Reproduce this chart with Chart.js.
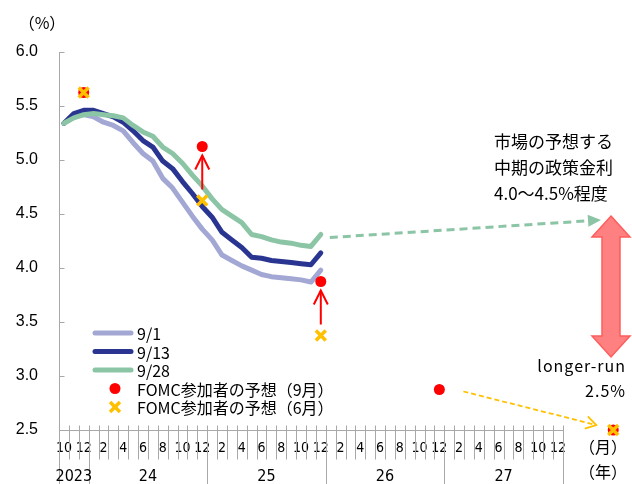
<!DOCTYPE html>
<html>
<head>
<meta charset="utf-8">
<script src="https://cdn.jsdelivr.net/npm/chart.js@4/dist/chart.umd.min.js"></script>
<style>
  html, body { margin: 0; padding: 0; background: #fff; }
  #wrap { width: 632px; height: 484px; position: relative; }
</style>
</head>
<body>
<div id="wrap"><canvas id="chart" width="632" height="484"></canvas></div>
<script>
// ---- Data -------------------------------------------------------------
// Month axis: October 2023 through December 2027 (one entry per month)
const MONTHS = [10, 11, 12,
  1, 2, 3, 4, 5, 6, 7, 8, 9, 10, 11, 12,
  1, 2, 3, 4, 5, 6, 7, 8, 9, 10, 11, 12,
  1, 2, 3, 4, 5, 6, 7, 8, 9, 10, 11, 12,
  1, 2, 3, 4, 5, 6, 7, 8, 9, 10, 11, 12];
const YEAR_LABELS = ['2023', '24', '25', '26', '27'];
const FIRST_YEAR = 2023;
const FIRST_MONTH = 10;

// Fed funds futures implied path, Oct 2023 – Dec 2025 (%)
const futures_0901 = [5.34, 5.40, 5.42, 5.40, 5.35, 5.32, 5.27, 5.16, 5.06, 4.99,
  4.83, 4.74, 4.61, 4.48, 4.36, 4.26, 4.12, 4.07, 4.02, 3.98,
  3.94, 3.92, 3.91, 3.90, 3.89, 3.87, 3.98];
const futures_0913 = [5.34, 5.43, 5.46, 5.46, 5.43, 5.40, 5.35, 5.27, 5.18, 5.12,
  4.99, 4.92, 4.80, 4.69, 4.57, 4.47, 4.33, 4.26, 4.19, 4.10,
  4.09, 4.07, 4.06, 4.05, 4.04, 4.03, 4.14];
const futures_0928 = [5.34, 5.39, 5.42, 5.43, 5.42, 5.41, 5.39, 5.32, 5.26, 5.22,
  5.12, 5.06, 4.97, 4.86, 4.76, 4.64, 4.54, 4.48, 4.42, 4.31,
  4.29, 4.26, 4.24, 4.23, 4.21, 4.20, 4.31];

// FOMC participants' median projections (year-end) and longer run
const DOT_PERIODS = ['2023-12', '2024-12', '2025-12', '2026-12', 'longer-run'];
const fomcSep = [5.625, 5.125, 3.875, 2.875, 2.5];
const fomcJun = [5.625, 4.625, 3.375, null, 2.5];

// ---- Layout / style ----------------------------------------------------
const COLORS = {
  lav: '#a3a7d4', navy: '#2a3591', green: '#8bc5a5',
  red: '#ff0000', gold: '#ffc000', axis: '#a8a8a8',
  band: '#ff8080', bandEdge: '#ff5c5c', text: '#000000'
};
const JP = '"Noto Sans CJK JP", "Noto Sans", sans-serif';
const NARROW = '"Liberation Sans Narrow", "DejaVu Sans Condensed", "Liberation Sans", sans-serif';
const LONGER_RUN_POS = 55.6;   // horizontal slot for the longer-run marker
const X_MAX = 57.5;

function periodPos(p) {
  if (p === 'longer-run') return LONGER_RUN_POS;
  const [yy, mm] = p.split('-').map(Number);
  return (yy - FIRST_YEAR) * 12 + (mm - FIRST_MONTH);
}
const asXY = arr => arr.map((v, i) => ({ x: i, y: v }));
const dots = vals => DOT_PERIODS.map((p, i) => ({ x: periodPos(p), y: vals[i] })).filter(d => d.y !== null);

function lineSet(label, values, color, order) {
  return {
    label, data: asXY(values), borderColor: color, backgroundColor: color,
    borderWidth: 5, pointRadius: 0, tension: 0,
    borderCapStyle: 'round', borderJoinStyle: 'round', order
  };
}

// ---- Drawing helpers ---------------------------------------------------
function seg(ctx, x1, y1, x2, y2) {
  ctx.beginPath(); ctx.moveTo(x1, y1); ctx.lineTo(x2, y2); ctx.stroke();
}
function cross(ctx, x, y, r, w, color) {
  const d = r * Math.SQRT1_2;
  ctx.save(); ctx.strokeStyle = color; ctx.lineWidth = w; ctx.lineCap = 'butt';
  seg(ctx, x - d, y - d, x + d, y + d);
  seg(ctx, x - d, y + d, x + d, y - d);
  ctx.restore();
}
function disc(ctx, x, y, r, color) {
  ctx.save(); ctx.fillStyle = color;
  ctx.beginPath(); ctx.arc(x, y, r, 0, Math.PI * 2); ctx.fill();
  ctx.restore();
}

// Axis frame: inward ticks, month separators, year separators and year labels
const axisFrame = {
  id: 'axisFrame',
  beforeDatasetsDraw(chart) {
    const { ctx, chartArea: a, scales: { x, y } } = chart;
    const H = chart.height;
    const L = Math.round(a.left) + 0.5;
    const B = Math.round(a.bottom) + 0.5;
    ctx.save();
    ctx.strokeStyle = COLORS.axis;
    ctx.lineWidth = 1;
    // vertical axis, running down through the label rows
    seg(ctx, L, a.top, L, H);
    for (let v = 2.5; v <= 6.0001; v += 0.5) {
      const py = Math.round(y.getPixelForValue(v)) + 0.5;
      seg(ctx, L, py, L + 5, py);
    }
    // horizontal axis up to the end of Dec 2027
    const xEnd = Math.round(x.getPixelForValue(MONTHS.length - 0.5)) + 0.5;
    seg(ctx, L, B, xEnd, B);
    for (let k = 1; k <= MONTHS.length; k++) {
      const bx = Math.round(x.getPixelForValue(k - 0.5)) + 0.5;
      const yearEdge = k === MONTHS.length || MONTHS[k] === 1;
      seg(ctx, bx, B - 5, bx, yearEdge ? H : B + 29);
    }
    // year labels centred in their spans
    ctx.fillStyle = COLORS.text;
    ctx.font = '16px ' + NARROW;
    ctx.textAlign = 'center';
    ctx.textBaseline = 'middle';
    let start = 0, yi = 0;
    for (let k = 1; k <= MONTHS.length; k++) {
      if (k === MONTHS.length || MONTHS[k] === 1) {
        const cx = (x.getPixelForValue(start - 0.5) + x.getPixelForValue(k - 0.5)) / 2;
        ctx.fillText(YEAR_LABELS[yi++], cx, 477);
        start = k;
      }
    }
    // unit captions
    ctx.font = '16px ' + JP;
    ctx.fillText('（%）', 42, 23);
    ctx.fillText('（月）', 603, 447);
    ctx.fillText('（年）', 603, 472);
    ctx.restore();
  }
};

// Callouts, arrows and the legend
const callouts = {
  id: 'callouts',
  afterDatasetsDraw(chart) {
    const { ctx, scales: { x, y } } = chart;
    ctx.save();

    // red arrows: June projection -> September projection
    ctx.strokeStyle = COLORS.red;
    ctx.lineWidth = 2;
    DOT_PERIODS.forEach((p, i) => {
      if (fomcJun[i] === null || fomcJun[i] === fomcSep[i]) return;
      const px = x.getPixelForValue(periodPos(p));
      const y0 = y.getPixelForValue(fomcJun[i]) - 11;
      const y1 = y.getPixelForValue(fomcSep[i]) + 9;
      seg(ctx, px, y0, px, y1);
      ctx.beginPath();
      ctx.moveTo(px - 7, y1 + 14); ctx.lineTo(px, y1); ctx.lineTo(px + 7, y1 + 14);
      ctx.stroke();
    });

    // double-headed band arrow on the right
    const cx = 611, top = 216, bot = 357, head = 21, hw = 19, sw = 9;
    ctx.beginPath();
    ctx.moveTo(cx, top);
    ctx.lineTo(cx + hw, top + head);
    ctx.lineTo(cx + sw, top + head);
    ctx.lineTo(cx + sw, bot - head);
    ctx.lineTo(cx + hw, bot - head);
    ctx.lineTo(cx, bot);
    ctx.lineTo(cx - hw, bot - head);
    ctx.lineTo(cx - sw, bot - head);
    ctx.lineTo(cx - sw, top + head);
    ctx.lineTo(cx - hw, top + head);
    ctx.closePath();
    ctx.fillStyle = COLORS.band;
    ctx.fill();
    ctx.strokeStyle = COLORS.bandEdge;
    ctx.lineWidth = 1.5;
    ctx.lineJoin = 'miter';
    ctx.stroke();

    // green dashed arrow from the end of the 9/28 path to the band
    const gLast = futures_0928.length - 1;
    const gx0 = x.getPixelForValue(gLast) + 9, gy0 = y.getPixelForValue(futures_0928[gLast]) + 3;
    const gx1 = cx - 10, gy1 = top + 4;
    const ang = Math.atan2(gy1 - gy0, gx1 - gx0);
    const hl = 13, hwid = 6;
    const bx = gx1 - hl * Math.cos(ang), by = gy1 - hl * Math.sin(ang);
    ctx.strokeStyle = COLORS.green;
    ctx.lineWidth = 3;
    ctx.setLineDash([8, 5]);
    seg(ctx, gx0, gy0, bx, by);
    ctx.setLineDash([]);
    ctx.fillStyle = COLORS.green;
    ctx.beginPath();
    ctx.moveTo(gx1, gy1);
    ctx.lineTo(bx + hwid * Math.sin(ang), by - hwid * Math.cos(ang));
    ctx.lineTo(bx - hwid * Math.sin(ang), by + hwid * Math.cos(ang));
    ctx.closePath();
    ctx.fill();

    // yellow dashed arrow from the 2026 projection to the longer-run marker
    const k26 = DOT_PERIODS.indexOf('2026-12');
    const kLR = DOT_PERIODS.indexOf('longer-run');
    const yx0 = x.getPixelForValue(periodPos('2026-12')) + 24, yy0 = y.getPixelForValue(fomcSep[k26]) + 2;
    const yx1 = x.getPixelForValue(LONGER_RUN_POS) - 17, yy1 = y.getPixelForValue(fomcSep[kLR]) - 5;
    const a2 = Math.atan2(yy1 - yy0, yx1 - yx0);
    ctx.strokeStyle = COLORS.gold;
    ctx.lineWidth = 1.8;
    ctx.setLineDash([5, 3]);
    seg(ctx, yx0, yy0, yx1, yy1);
    ctx.setLineDash([]);
    ctx.beginPath();
    const wl = 12, wa = 0.55;
    ctx.moveTo(yx1 - wl * Math.cos(a2 - wa), yy1 - wl * Math.sin(a2 - wa));
    ctx.lineTo(yx1, yy1);
    ctx.lineTo(yx1 - wl * Math.cos(a2 + wa), yy1 - wl * Math.sin(a2 + wa));
    ctx.stroke();

    // text callouts
    ctx.fillStyle = COLORS.text;
    ctx.textBaseline = 'middle';
    ctx.textAlign = 'left';
    ctx.font = '17px ' + JP;
    ctx.fillText('市場の予想する', 494, 142);
    ctx.fillText('中期の政策金利', 494, 168);
    ctx.fillText('4.0～4.5%程度', 494, 194);
    ctx.textAlign = 'right';
    ctx.font = '16px ' + JP;
    if ('letterSpacing' in ctx) ctx.letterSpacing = '1px';
    ctx.fillText('longer-run', 626, 366);
    ctx.fillText('2.5%', 626, 391);
    if ('letterSpacing' in ctx) ctx.letterSpacing = '0px';

    // legend
    const items = [
      { kind: 'line', color: COLORS.lav, text: '9/1' },
      { kind: 'line', color: COLORS.navy, text: '9/13' },
      { kind: 'line', color: COLORS.green, text: '9/28' },
      { kind: 'dot', color: COLORS.red, text: 'FOMC参加者の予想（9月）' },
      { kind: 'cross', color: COLORS.gold, text: 'FOMC参加者の予想（6月）' }
    ];
    ctx.font = '16px ' + JP;
    ctx.textAlign = 'left';
    items.forEach((it, i) => {
      const ly = 333 + i * 18.5;
      if (it.kind === 'line') {
        ctx.save();
        ctx.strokeStyle = it.color; ctx.lineWidth = 5; ctx.lineCap = 'round';
        seg(ctx, 95, ly, 131, ly);
        ctx.restore();
      } else if (it.kind === 'dot') {
        disc(ctx, 115, ly, 5.5, it.color);
      } else {
        cross(ctx, 115, ly, 7, 3.5, it.color);
      }
      ctx.fillStyle = COLORS.text;
      ctx.fillText(it.text, 137, ly + 1);
    });
    ctx.restore();
  }
};

// ---- Chart -------------------------------------------------------------
new Chart(document.getElementById('chart'), {
  type: 'line',
  data: {
    datasets: [
      {
        label: 'FOMC参加者の予想（6月）', data: dots(fomcJun), showLine: false,
        pointStyle: 'crossRot', pointRadius: 7, pointBorderWidth: 3.5,
        pointBorderColor: COLORS.gold, pointBackgroundColor: COLORS.gold,
        borderColor: COLORS.gold, clip: false, order: 0
      },
      {
        label: 'FOMC参加者の予想（9月）', data: dots(fomcSep), showLine: false,
        pointStyle: 'circle', pointRadius: 5.5, pointBorderWidth: 0,
        pointBackgroundColor: COLORS.red, borderColor: COLORS.red, clip: false, order: 1
      },
      lineSet('9/28', futures_0928, COLORS.green, 2),
      lineSet('9/13', futures_0913, COLORS.navy, 3),
      lineSet('9/1', futures_0901, COLORS.lav, 4)
    ]
  },
  options: {
    responsive: false,
    animation: false,
    events: [],
    layout: { autoPadding: false, padding: { top: 52, left: 0, right: 0, bottom: 0 } },
    plugins: { legend: { display: false }, tooltip: { enabled: false } },
    scales: {
      x: {
        type: 'linear', min: -0.5, max: X_MAX,
        afterBuildTicks: s => { s.ticks = MONTHS.map((m, i) => ({ value: i })); },
        afterFit: s => { s.height = 54; },
        grid: { display: false, drawTicks: false },
        border: { display: false },
        ticks: {
          autoSkip: false, maxRotation: 0, minRotation: 0, padding: 10,
          color: COLORS.text, font: { family: NARROW, size: 14 },
          callback: v => {
            const m = MONTHS[Math.round(v)];
            return m !== undefined && m % 2 === 0 ? String(m) : '';
          }
        }
      },
      y: {
        min: 2.5, max: 6.0,
        afterFit: s => { s.width = 59; },
        grid: { display: false, drawTicks: false },
        border: { display: false },
        ticks: {
          stepSize: 0.5, padding: 21, color: COLORS.text,
          font: { family: '"Liberation Sans", Arial, sans-serif', size: 16 },
          callback: v => Number(v).toFixed(1)
        }
      }
    }
  },
  plugins: [axisFrame, callouts]
});
</script>
</body>
</html>
